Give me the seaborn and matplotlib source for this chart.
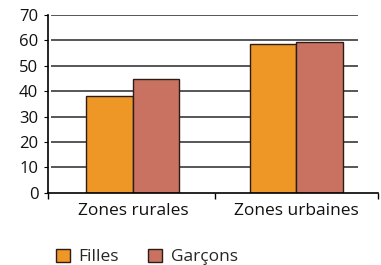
import pandas as pd
import seaborn as sns
import matplotlib.pyplot as plt
from matplotlib.patches import Patch

# data
zones = ['Zones rurales', 'Zones urbaines']
filles = [38.2, 58.6]
garcons = [44.9, 59.5]
groups = ['Filles', 'Garçons']
colors = ['#EE9626', '#C97262']

df = pd.DataFrame({
    'zone': zones * 2,
    'groupe': [groups[0]] * 2 + [groups[1]] * 2,
    'valeur': filles + garcons,
})

sns.set_style('white')
plt.rcParams['font.family'] = ['Open Sans', 'DejaVu Sans']

fig = plt.figure(figsize=(3.81, 2.65), dpi=100)
ax = fig.add_axes([0.126, 0.272, 0.866, 0.672])

# horizontal gridlines (stop short of the right end like the original)
ax.hlines(range(10, 80, 10), -0.5, 1.38, color='#3a3a3a', lw=1.2, zorder=0)

sns.barplot(data=df, x='zone', y='valeur', hue='groupe', palette=colors,
            saturation=1, width=0.57, edgecolor='#2b1d15', linewidth=1.0, ax=ax,
            legend=False, zorder=2)

ax.set_xlim(-0.52, 1.5)
ax.set_ylim(0, 70)
ax.set_yticks(range(0, 80, 10))
ax.set_xticks([-0.52, 0.5, 1.5], minor=True)
ax.tick_params(axis='x', which='minor', length=4, color='black', width=1, bottom=True)
ax.tick_params(axis='x', which='major', length=0, labelsize=12.5, pad=7, labelcolor='#111111')
ax.tick_params(axis='y', length=3, color='black', left=True, labelsize=12, pad=4, labelcolor='#111111')
ax.set_xlabel('')
ax.set_ylabel('')
for s in ['top', 'right']:
    ax.spines[s].set_visible(False)
for s in ['left', 'bottom']:
    ax.spines[s].set_color('black')
    ax.spines[s].set_linewidth(1.2)

handles = [Patch(facecolor=c, edgecolor='#2b1d15', label=g) for c, g in zip(colors, groups)]
fig.legend(handles=handles, loc='lower left', bbox_to_anchor=(0.105, -0.06), ncol=2,
           frameon=False, fontsize=12.5, handlelength=0.8, handleheight=0.8,
           handletextpad=0.5, columnspacing=1.7)

fig.savefig('out.png', dpi=100)
